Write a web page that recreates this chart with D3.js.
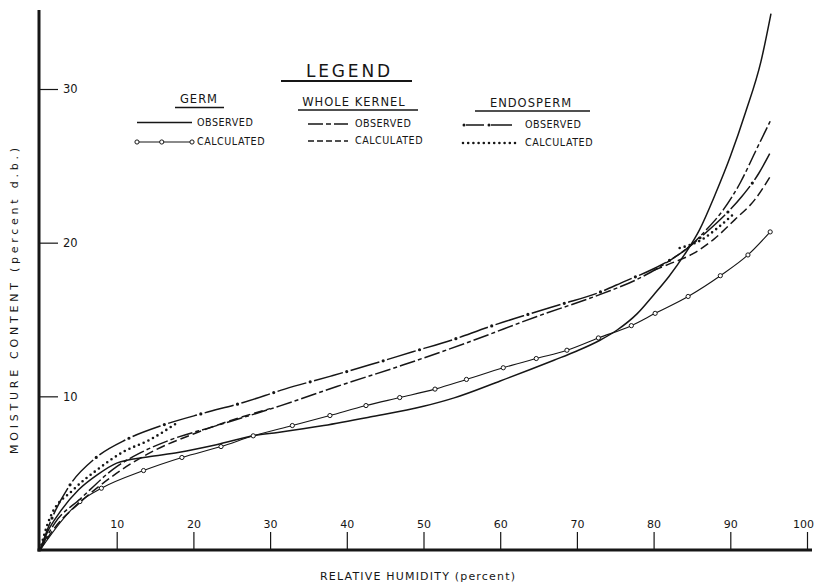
<!DOCTYPE html>
<html>
<head>
<meta charset="utf-8">
<script src="https://cdn.jsdelivr.net/npm/d3@7"></script>
<style>
  body { margin: 0; background: #fff; }
  svg { display: block; }
  text { font-family: "DejaVu Sans", "Liberation Sans", sans-serif; fill: #161616; }
</style>
</head>
<body>
<svg id="chart" width="816" height="584"></svg>
<script>
// Tick values for both axes
const humidityTicks = [10, 20, 30, 40, 50, 60, 70, 80, 90, 100];
const moistureTicks = [10, 20, 30];

// Germ, observed isotherm (relative humidity %, moisture content % d.b.)
const germObsRH = [0, 1, 2.5, 5, 7.5, 10, 14, 18, 23, 28, 31, 37, 43, 50, 54, 60, 67, 70, 73, 75.2, 77.8, 80, 82, 84, 86, 88, 90, 92, 94, 95.3];
const germObsMC = [0, 1.2, 2.4, 3.9, 4.9, 5.65, 6.05, 6.35, 6.85, 7.45, 7.65, 8.1, 8.65, 9.35, 9.9, 11.0, 12.35, 12.95, 13.65, 14.3, 15.35, 16.6, 17.8, 19.2, 20.85, 23.1, 25.6, 28.5, 31.8, 34.9];

// Germ, calculated points
const germCalcRH = [0, 5.2, 8.0, 13.5, 18.5, 23.6, 27.8, 32.9, 37.8, 42.5, 46.9, 51.5, 55.6, 60.4, 64.7, 68.7, 72.8, 77.1, 80.2, 84.5, 88.7, 92.3, 95.2];
const germCalcMC = [0, 3.15, 4.02, 5.17, 6.02, 6.73, 7.43, 8.1, 8.75, 9.4, 9.92, 10.47, 11.1, 11.86, 12.46, 13.0, 13.8, 14.6, 15.4, 16.5, 17.85, 19.2, 20.7];

// Whole kernel, observed
const kernelObsRH = [0, 2, 5.2, 10, 13, 17, 22.6, 31.3, 38.7, 47.4, 56.1, 64.8, 73.4, 77.8, 82, 85, 86.9, 89.1, 91.3, 93.4, 95.2];
const kernelObsMC = [0, 1.8, 3.3, 5.43, 6.3, 7.17, 8.03, 9.38, 10.64, 12.05, 13.57, 15.2, 16.7, 17.6, 18.8, 19.9, 20.85, 22.15, 23.9, 26.06, 27.9];

// Whole kernel, calculated (null where it runs on the observed curve)
const kernelCalcRH = [0, 2, 5, 10, 15, 20, 25, 30, 55, 80, 82, 85.2, 87.8, 90.6, 93.2, 95.2];
const kernelCalcMC = [0, 1.5, 3.0, 5.0, 6.5, 7.55, 8.45, 9.2, null, 18.2, 18.6, 19.3, 20.2, 21.5, 22.8, 24.3];

// Endosperm, observed
const endoObsRH = [0, 1.5, 3.9, 7.2, 11.3, 16.1, 21.3, 26.5, 31.9, 37.8, 43, 48.6, 53.9, 58.4, 63.4, 68, 72.6, 76.3, 80, 83.5, 86.7, 89.1, 91.5, 93.7, 95.2];
const endoObsMC = [0, 2.0, 4.23, 5.97, 7.2, 8.14, 8.9, 9.6, 10.47, 11.3, 12.05, 12.9, 13.7, 14.5, 15.3, 16.0, 16.7, 17.5, 18.3, 19.3, 20.6, 21.7, 23.0, 24.5, 25.85];

// Endosperm, calculated (null where it runs on the observed curve)
const endoCalcRH = [0, 1.3, 4.3, 7.4, 10.9, 14.3, 17.8, 50, 83.4, 86.3, 88.2, 90.3];
const endoCalcMC = [0, 2.1, 3.9, 5.2, 6.4, 7.17, 8.25, null, 19.65, 20.2, 20.9, 21.8];

const legendGroups = ["GERM", "WHOLE KERNEL", "ENDOSPERM"];
const legendRows = ["OBSERVED", "CALCULATED"];

const ink = "#161616";
const svg = d3.select("#chart");

const x = d3.scaleLinear().domain([0, 100]).range([40, 807]);
const y = d3.scaleLinear().domain([0, 30]).range([550, 89]);

const zip = (xs, ys) => xs.map((v, i) => ({ rh: v, mc: ys[i] }));

// Axes: ticks point into the plot, labels sit inside
const xAxis = d3.axisTop(x).tickValues(humidityTicks).tickSize(18).tickPadding(4).tickSizeOuter(0);
const gx = svg.append("g").attr("transform", `translate(0,${y(0)})`).call(xAxis);
gx.select(".domain").remove();
gx.selectAll(".tick line").attr("stroke", ink).attr("stroke-width", 1.2);
gx.selectAll(".tick text").attr("font-size", 11).attr("font-family", "DejaVu Sans, sans-serif").attr("fill", ink)
  .attr("dx", d => d === 100 ? -4 : 0);

const yAxis = d3.axisRight(y).tickValues(moistureTicks).tickSize(18).tickPadding(5).tickSizeOuter(0);
const gy = svg.append("g").attr("transform", `translate(${x(0)},0)`).call(yAxis);
gy.select(".domain").remove();
gy.selectAll(".tick line").attr("stroke", ink).attr("stroke-width", 1.2);
gy.selectAll(".tick text").attr("font-size", 11.5).attr("font-family", "DejaVu Sans, sans-serif").attr("fill", ink);

// Heavy axis frame lines
svg.append("line").attr("x1", 39).attr("x2", 39).attr("y1", 10).attr("y2", 551.5)
  .attr("stroke", ink).attr("stroke-width", 3);
svg.append("line").attr("x1", 37.5).attr("x2", 812).attr("y1", 550).attr("y2", 550)
  .attr("stroke", ink).attr("stroke-width", 3);

// Axis titles
svg.append("text").attr("x", 417.5).attr("y", 580).attr("text-anchor", "middle")
  .attr("font-size", 11).attr("textLength", 195).attr("lengthAdjust", "spacing")
  .text("RELATIVE HUMIDITY (percent)");
svg.append("text").attr("transform", "translate(18,301) rotate(-90)").attr("text-anchor", "middle")
  .attr("font-size", 11).attr("textLength", 306).attr("lengthAdjust", "spacing")
  .text("MOISTURE CONTENT (percent d.b.)");

const line = d3.line()
  .defined(d => d.mc !== null)
  .x(d => x(d.rh)).y(d => y(d.mc))
  .curve(d3.curveMonotoneX);

const plot = svg.append("g").attr("fill", "none").attr("stroke", ink);

// Style helpers shared by plot and legend
function solid(g, d) { return g.append("path").attr("d", d).attr("stroke-width", 1.5).attr("fill", "none").attr("stroke", ink); }
function longShortDash(g, d, a) { return g.append("path").attr("d", d).attr("stroke-width", 1.5).attr("fill", "none").attr("stroke", ink).attr("stroke-dasharray", a || "16,3,4,3"); }
function dashed(g, d, a) { return g.append("path").attr("d", d).attr("stroke-width", 1.5).attr("fill", "none").attr("stroke", ink).attr("stroke-dasharray", a || "9,4"); }
function dashDot(g, d, dash, gap) {
  g.append("path").attr("d", d).attr("stroke-width", 1.5).attr("fill", "none").attr("stroke", ink)
    .attr("stroke-dasharray", `${dash},${gap * 2}`);
  g.append("path").attr("d", d).attr("stroke-width", 3.2).attr("fill", "none").attr("stroke", ink)
    .attr("stroke-linecap", "round").attr("stroke-dasharray", `0,${dash + gap * 2}`).attr("stroke-dashoffset", -(dash + gap));
}
function dotted(g, d) {
  return g.append("path").attr("d", d).attr("stroke-width", 2.6).attr("fill", "none").attr("stroke", ink)
    .attr("stroke-linecap", "round").attr("stroke-dasharray", "0,5.2");
}

const germCalc = zip(germCalcRH, germCalcMC);

solid(plot, line(zip(germObsRH, germObsMC)));
plot.append("path").attr("d", line(germCalc)).attr("stroke-width", 1.1).attr("fill", "none");
plot.selectAll("circle.gc").data(germCalc.filter(d => d.rh > 0)).join("circle")
  .attr("class", "gc").attr("cx", d => x(d.rh)).attr("cy", d => y(d.mc)).attr("r", 2.1)
  .attr("fill", "#fff").attr("stroke", ink).attr("stroke-width", 1);
longShortDash(plot, line(zip(kernelObsRH, kernelObsMC)));
dashed(plot, line(zip(kernelCalcRH, kernelCalcMC)));
dashDot(plot, line(zip(endoObsRH, endoObsMC)), 30, 4);
dotted(plot, line(zip(endoCalcRH, endoCalcMC)));

// Legend
const legend = svg.append("g");
legend.append("text").attr("x", 348).attr("y", 77).attr("text-anchor", "middle")
  .attr("font-size", 17).attr("textLength", 84).attr("lengthAdjust", "spacing").text("LEGEND");
legend.append("line").attr("x1", 281).attr("x2", 412).attr("y1", 81).attr("y2", 81)
  .attr("stroke", ink).attr("stroke-width", 1.8);

const groupLayout = [
  { cx: 199, base: 103, ul: [175, 224], uy: 107.5, lx: [137, 192], tx: 197, rows: [122.5, 142] },
  { cx: 354, base: 106, ul: [298, 418], uy: 110, lx: [308, 348], tx: 355, rows: [124, 141] },
  { cx: 531, base: 106.5, ul: [475, 590], uy: 111, lx: [463, 519], tx: 525, rows: [125, 143] }
];

legendGroups.forEach((name, i) => {
  const L = groupLayout[i];
  legend.append("text").attr("x", L.cx).attr("y", L.base).attr("text-anchor", "middle")
    .attr("font-size", 11.5).attr("letter-spacing", 1).text(name);
  legend.append("line").attr("x1", L.ul[0]).attr("x2", L.ul[1]).attr("y1", L.uy).attr("y2", L.uy)
    .attr("stroke", ink).attr("stroke-width", 1.3);
  legendRows.forEach((row, j) => {
    const yy = L.rows[j];
    legend.append("text").attr("x", L.tx).attr("y", yy).attr("dy", "0.36em")
      .attr("font-size", 9.6).attr("letter-spacing", 0.5).text(row);
    const seg = `M${L.lx[0]},${yy}L${L.lx[1]},${yy}`;
    if (i === 0 && j === 0) solid(legend, seg);
    if (i === 0 && j === 1) {
      legend.append("path").attr("d", seg).attr("stroke", ink).attr("stroke-width", 1.1);
      [0, 0.45, 1].forEach(t => legend.append("circle")
        .attr("cx", L.lx[0] + t * (L.lx[1] - L.lx[0])).attr("cy", yy).attr("r", 2.1)
        .attr("fill", "#fff").attr("stroke", ink).attr("stroke-width", 1));
    }
    if (i === 1 && j === 0) longShortDash(legend, seg, "15,3,5,3,15");
    if (i === 1 && j === 1) dashed(legend, seg, "6,3");
    if (i === 2 && j === 0) {
      legend.append("path").attr("d", seg).attr("stroke", ink).attr("stroke-width", 1.4)
        .attr("stroke-dasharray", "0,3,18,7,18");
      [L.lx[0] + 1, L.lx[0] + 26].forEach(cx => legend.append("circle")
        .attr("cx", cx).attr("cy", yy).attr("r", 1.5).attr("fill", ink));
    }
    if (i === 2 && j === 1) dotted(legend, seg);
  });
});
</script>
</body>
</html>
